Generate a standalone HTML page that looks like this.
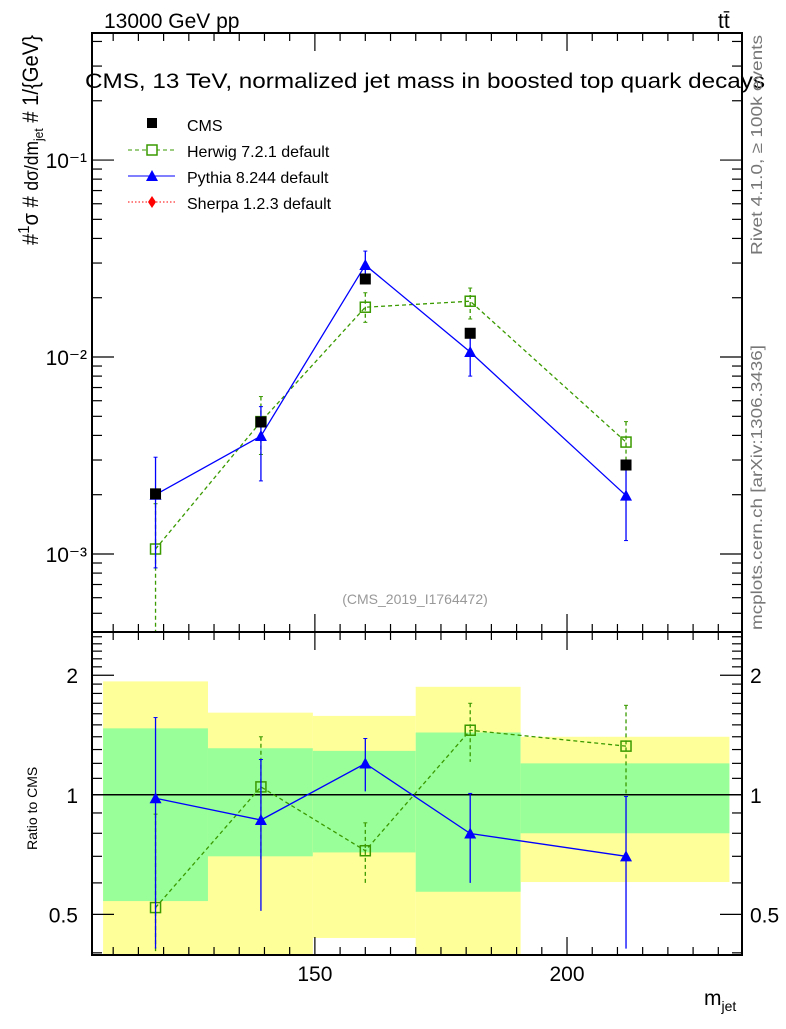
<!DOCTYPE html>
<html><head><meta charset="utf-8"><style>
html,body{margin:0;padding:0;background:#fff;}
svg text{font-family:"Liberation Sans",sans-serif;}
</style></head><body>
<svg id="c" width="786" height="1024" xmlns="http://www.w3.org/2000/svg">
<g id="bands"></g>
<g id="grid"></g>
<g id="series"></g>
<rect x="92" y="33" width="650" height="599" fill="none" stroke="#000" stroke-width="2"/>
<rect x="92" y="632" width="650" height="323" fill="none" stroke="#000" stroke-width="2"/>
<g id="ticks"></g>
<text x="104" y="28" font-size="21">13000 GeV pp</text>
<text x="718" y="28" font-size="21">tt̄</text>
<text x="85" y="88" font-size="21" textLength="680" lengthAdjust="spacingAndGlyphs">CMS, 13 TeV, normalized jet mass in boosted top quark decays</text>
<text x="415" y="604" font-size="14" fill="#999" text-anchor="middle">(CMS_2019_I1764472)</text>
<text transform="translate(762,255) rotate(-90)" font-size="16" fill="#777" textLength="220" lengthAdjust="spacingAndGlyphs">Rivet 4.1.0, ≥ 100k events</text>
<text transform="translate(762,630) rotate(-90)" font-size="16" fill="#777" textLength="285" lengthAdjust="spacingAndGlyphs">mcplots.cern.ch [arXiv:1306.3436]</text>
<text transform="translate(38,245) rotate(-90)" font-size="22" textLength="210" lengthAdjust="spacingAndGlyphs">#<tspan dy="-9" font-size="16">1</tspan><tspan dy="9">σ</tspan> # <tspan font-size="19">dσ/dm</tspan><tspan font-size="13" dy="5">jet</tspan><tspan dy="-5"> # 1/{GeV}</tspan></text>
<text transform="translate(37,850) rotate(-90)" font-size="14">Ratio to CMS</text>
<text x="704" y="1005" font-size="21">m<tspan font-size="14" dy="6">jet</tspan></text>
<g>
<rect x="147" y="118" width="10" height="10" fill="#000"/>
<text x="187" y="131" font-size="16">CMS</text>
<line x1="128" y1="150" x2="175" y2="150" stroke="#3a9a00" stroke-dasharray="4,3"/>
<rect x="147" y="145" width="10" height="10" fill="#fff" stroke="#3a9a00" stroke-width="1.5"/>
<text x="187" y="157" font-size="16">Herwig 7.2.1 default</text>
<line x1="128" y1="176" x2="175" y2="176" stroke="#00f"/>
<path d="M152,170 L158,181 L146,181Z" fill="#00f"/>
<text x="187" y="183" font-size="16">Pythia 8.244 default</text>
<line x1="128" y1="202" x2="175" y2="202" stroke="#f00" stroke-dasharray="1.5,2"/>
<path d="M152,196 L156,202 L152,208 L148,202Z" fill="#f00"/>
<text x="187" y="209" font-size="16">Sherpa 1.2.3 default</text>
</g>
</svg>
<script>
const binEdges=[108,128.8,149.6,170,190.8,232.2];
const xCenters=[118.4,139.3,160,180.8,211.7];
const cmsVals=[2.02e-3,4.68e-3,0.0249,0.0132,2.83e-3];
const herwigVals=[1.06e-3,4.7e-3,0.0179,0.0192,3.7e-3];
const herwigUp=[1.8e-3,6.3e-3,0.0212,0.0224,4.7e-3];
const herwigDn=[1e-4,3.2e-3,0.0150,0.0156,2.8e-3];
const pythiaVals=[2.0e-3,3.97e-3,0.0293,0.0106,1.98e-3];
const pythiaUp=[3.1e-3,5.6e-3,0.0345,0.0132,2.8e-3];
const pythiaDn=[8.5e-4,2.35e-3,0.0238,8.0e-3,1.17e-3];
const herwigRatio=[0.52,1.047,0.723,1.454,1.326];
const herwigRatioUp=[0.894,1.40,0.85,1.70,1.68];
const herwigRatioDn=[0.3,0.69,0.598,1.21,0.99];
const pythiaRatio=[0.98,0.864,1.199,0.799,0.70];
const pythiaRatioUp=[1.565,1.227,1.386,1.008,0.99];
const pythiaRatioDn=[0.41,0.51,1.02,0.60,0.41];
const band1Up=[1.47,1.31,1.29,1.435,1.20];
const band1Dn=[0.54,0.70,0.716,0.57,0.80];
const band2Up=[1.93,1.61,1.58,1.87,1.40];
const band2Dn=[0.3,0.3,0.436,0.3,0.603];
const xTickLabels=[150,200];
const yTickLabels=["10⁻¹","10⁻²","10⁻³"];
const ratioTickVals=[2,1,0.5];

const NS="http://www.w3.org/2000/svg";
const X0=92,X1=742,xmin=105.8,xmax=234.7;
const sx=v=>X0+(v-xmin)/(xmax-xmin)*(X1-X0);
const MT=33,MB=632,lmax=-0.355,lmin=-3.396;
const sy=v=>MT+(lmax-Math.log10(v))/(lmax-lmin)*(MB-MT);
const RT=632,RB=955,rmax=Math.log2(2.57),rmin=Math.log2(0.395);
const ry=v=>{let y=RT+(rmax-Math.log2(v))/(rmax-rmin)*(RB-RT);return Math.max(RT,Math.min(RB,y));};
const clipM=y=>Math.max(MT,Math.min(MB,y));
function mk(tag,attrs,parent){const e=document.createElementNS(NS,tag);for(const k in attrs)e.setAttribute(k,attrs[k]);parent.appendChild(e);return e;}
const bands=document.getElementById('bands'),series=document.getElementById('series'),ticks=document.getElementById('ticks');

for(let i=0;i<5;i++){
 const x=sx(binEdges[i]),w=sx(binEdges[i+1])-x;
 let r=mk('rect',{x:x,y:ry(band2Up[i]),width:w,height:ry(band2Dn[i])-ry(band2Up[i]),fill:'#ffff99'},bands);
 
 
 r=mk('rect',{x:x,y:ry(band1Up[i]),width:w,height:ry(band1Dn[i])-ry(band1Up[i]),fill:'#99ff99'},bands);
 
 
}
let l=mk('line',{x1:X0,x2:X1,y1:ry(1),y2:ry(1),stroke:'#000','stroke-width':1.5},bands);



function drawSeries(vals,up,dn,yf,clip,color,dash,marker,name){
 const g=mk('g',{},series);
 
 
 const pts=vals.map((v,i)=>sx(xCenters[i])+','+clip(yf(v))).join(' ');
 if(color) mk('polyline',{points:pts,fill:'none',stroke:color,'stroke-width':1.3,'stroke-dasharray':dash},g);
 vals.forEach((v,i)=>{
  const x=sx(xCenters[i]);
  if(up){const y1=clip(yf(up[i])),y2=clip(yf(dn[i]));
   mk('line',{x1:x,x2:x,y1:y1,y2:y2,stroke:color,'stroke-width':1.3,'stroke-dasharray':dash},g);
   if(y1>MT&&y1!=RT) mk('line',{x1:x-2,x2:x+2,y1:y1,y2:y1,stroke:color},g);
   if(y2<MB&&y2!=RB) mk('line',{x1:x-2,x2:x+2,y1:y2,y2:y2,stroke:color},g);}
  const y=clip(yf(v));let m;
  if(marker==='fsq') m=mk('rect',{x:x-5.5,y:y-5.5,width:11,height:11,fill:'#000'},g);
  else if(marker==='osq') m=mk('rect',{x:x-5,y:y-5,width:10,height:10,fill:'none',stroke:'#3a9a00','stroke-width':1.5},g);
  else m=mk('path',{d:`M${x},${y-6}L${x+6},${y+5}L${x-6},${y+5}Z`,fill:'#00f'},g);
  
  
 });
}
drawSeries(herwigVals,herwigUp,herwigDn,sy,clipM,'#3a9a00','4,3','osq','herwig-series');
drawSeries(pythiaVals,pythiaUp,pythiaDn,sy,clipM,'#00f','','tri','pythia-series');
drawSeries(cmsVals,null,null,sy,clipM,null,'','fsq','cms-series');
drawSeries(herwigRatio,herwigRatioUp,herwigRatioDn,ry,v=>v,'#3a9a00','4,3','osq','herwig-ratio');
drawSeries(pythiaRatio,pythiaRatioUp,pythiaRatioDn,ry,v=>v,'#00f','','tri','pythia-ratio');

for(let v=110;v<=230;v+=5){
 const x=sx(v),L=(v%50===0)?18:8;
 [[MT,1],[MB,-1],[RT,1],[RB,-1]].forEach(([y,d])=>mk('line',{x1:x,x2:x,y1:y,y2:y+d*L,stroke:'#000','stroke-width':1.2},ticks));
}
xTickLabels.forEach(v=>{const t=mk('text',{x:sx(v),y:981,'font-size':21,'text-anchor':'middle'},ticks);t.textContent=v;
 
 });
for(let e=-4;e<=0;e++)for(let m=1;m<10;m++){const v=m*Math.pow(10,e);const y=sy(v);if(y<MT||y>MB)continue;const L=m===1?22:10;
 mk('line',{x1:X0,x2:X0+L,y1:y,y2:y,stroke:'#000','stroke-width':1.2},ticks);mk('line',{x1:X1,x2:X1-L,y1:y,y2:y,stroke:'#000','stroke-width':1.2},ticks);}
yTickLabels.forEach((s,i)=>{const t=mk('text',{x:87,y:sy(Math.pow(10,-1-i))+8,'font-size':21,'text-anchor':'end'},ticks);t.textContent=s;
 
 });
[0.4,0.5,0.6,0.7,0.8,0.9,1,1.1,1.2,1.3,1.4,1.5,1.6,1.7,1.8,1.9,2,2.1,2.2,2.3,2.4,2.5].forEach(v=>{const y=ry(v);if(y<=RT||y>=RB)return;const L=ratioTickVals.includes(v)?22:10;
 mk('line',{x1:X0,x2:X0+L,y1:y,y2:y,stroke:'#000','stroke-width':1.2},ticks);mk('line',{x1:X1,x2:X1-L,y1:y,y2:y,stroke:'#000','stroke-width':1.2},ticks);});
ratioTickVals.forEach(v=>{let t=mk('text',{x:78,y:ry(v)+8,'font-size':21,'text-anchor':'end'},ticks);t.textContent=v;
 
 
 t=mk('text',{x:750,y:ry(v)+8,'font-size':21},ticks);t.textContent=v;
 
 });
</script>
</body></html>
